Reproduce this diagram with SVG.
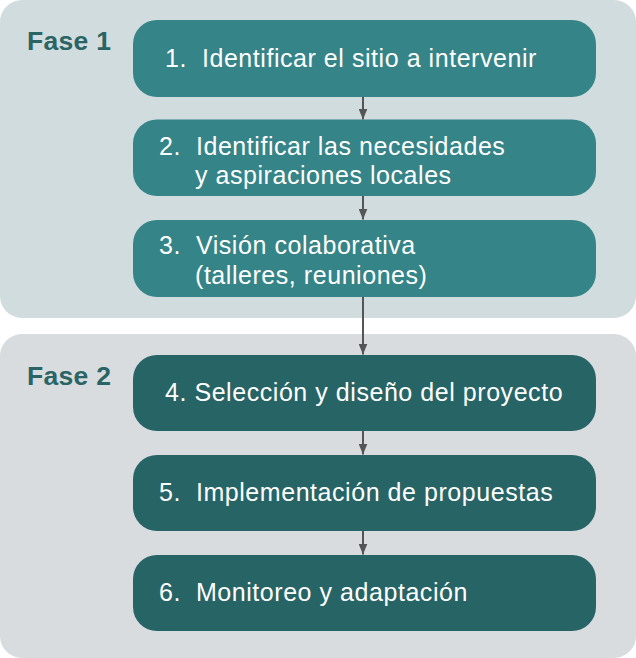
<svg xmlns="http://www.w3.org/2000/svg" width="636" height="658" viewBox="0 0 636 658">
  <defs>
    <marker id="ah" viewBox="0 0 11 9" refX="11" refY="4.5" markerWidth="11" markerHeight="9" markerUnits="userSpaceOnUse" orient="auto">
      <path d="M0,0 L11,4.5 L0,9 Z" fill="#555555"/>
    </marker>
  </defs>
  <style>
    .phase1 { fill: #d0dcdd; }
    .phase2 { fill: #d8dcdf; }
    .label { font-family: "Liberation Sans", Arial, sans-serif; font-weight: bold; font-size: 26.5px; fill: #2a6465; letter-spacing: 0.3px; }
    .b1 { fill: #358487; }
    .b2 { fill: #276466; }
    .t { font-family: "Liberation Sans", Arial, sans-serif; font-size: 25px; fill: #ffffff; letter-spacing: 0.55px; }
    .conn { stroke: #555555; stroke-width: 2; fill: none; marker-end: url(#ah); }
  </style>

  <g id="fase1">
    <rect class="phase1" x="0" y="0" width="636" height="318" rx="22"/>
    <text class="label" x="27" y="50">Fase 1</text>
  </g>
  <g id="fase2">
    <rect class="phase2" x="0" y="334" width="636" height="324" rx="22"/>
    <text class="label" x="27" y="385">Fase 2</text>
  </g>

  <g id="connectors">
    <line class="conn" x1="363" y1="97" x2="363" y2="119.5"/>
    <line class="conn" x1="363" y1="196" x2="363" y2="219.5"/>
    <line class="conn" x1="363" y1="297" x2="363" y2="354.5"/>
    <line class="conn" x1="363" y1="431" x2="363" y2="454.5"/>
    <line class="conn" x1="363" y1="531" x2="363" y2="554.5"/>
  </g>

  <g id="step1">
    <rect class="b1" x="133" y="20" width="463" height="77" rx="24"/>
    <text class="t" x="165" y="66.5" xml:space="preserve">1.  Identificar el sitio a intervenir</text>
  </g>
  <g id="step2">
    <rect class="b1" x="133" y="119.5" width="463" height="76.5" rx="24"/>
    <text class="t" x="159" y="155" xml:space="preserve">2.  Identificar las necesidades</text>
    <text class="t" x="195" y="184">y aspiraciones locales</text>
  </g>
  <g id="step3">
    <rect class="b1" x="133" y="220" width="463" height="77" rx="24"/>
    <text class="t" x="159" y="253.5" xml:space="preserve">3.  Visión colaborativa</text>
    <text class="t" x="195" y="283.5">(talleres, reuniones)</text>
  </g>
  <g id="step4">
    <rect class="b2" x="133" y="355" width="463" height="76" rx="24"/>
    <text class="t" x="165" y="400.5">4. Selección y diseño del proyecto</text>
  </g>
  <g id="step5">
    <rect class="b2" x="133" y="455" width="463" height="76" rx="24"/>
    <text class="t" x="159" y="500.5" xml:space="preserve">5.  Implementación de propuestas</text>
  </g>
  <g id="step6">
    <rect class="b2" x="133" y="555" width="463" height="76" rx="24"/>
    <text class="t" x="159" y="600.5" xml:space="preserve">6.  Monitoreo y adaptación</text>
  </g>
</svg>
